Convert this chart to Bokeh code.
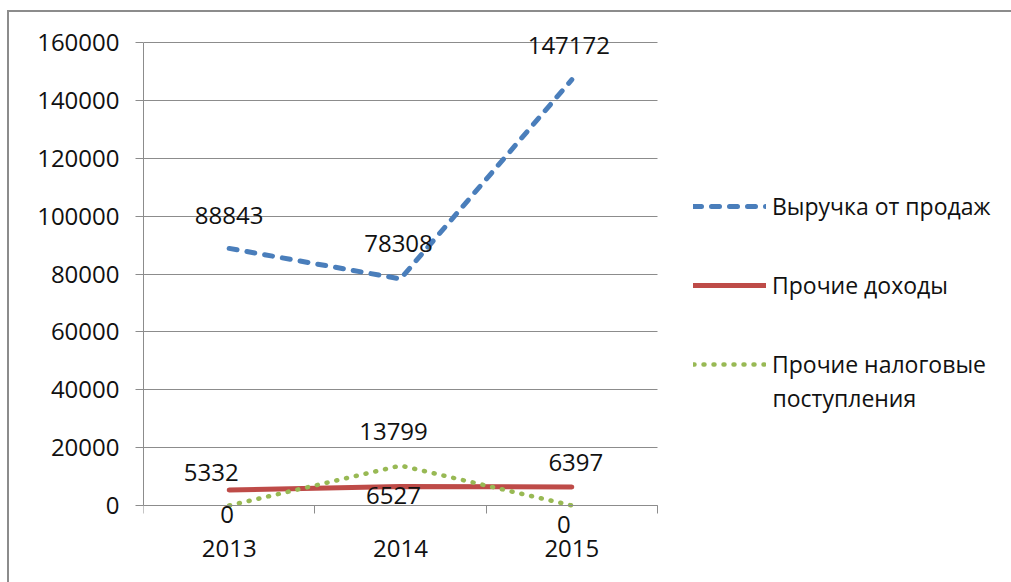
from bokeh.plotting import figure
from bokeh.models import (Range1d, FixedTicker, NumeralTickFormatter, ColumnDataSource,
                          LabelSet, Label, Legend, LegendItem)
from bokeh.core.properties import value
from bokeh.embed import file_html
from bokeh.resources import INLINE

# --- data ---------------------------------------------------------------
years = ["2013", "2014", "2015"]
revenue = [88843, 78308, 147172]          # Выручка от продаж
other_income = [5332, 6527, 6397]         # Прочие доходы
other_tax = [0, 13799, 0]                 # Прочие налоговые поступления
y_ticks = [0, 20000, 40000, 60000, 80000, 100000, 120000, 140000, 160000]
series_names = ["Выручка от продаж", "Прочие доходы", "Прочие налоговые"]
series_name_tail = "поступления"          # second line of the third legend entry

# --- style --------------------------------------------------------------
FONT = "Open Sans"
FS = "24px"
LEG_FS = "23px"
GRID = "#8c8c8c"
INK = "#111111"
BLUE, RED, GREEN = "#4A7EBB", "#BE4B48", "#98B954"

# value-label nudges in screen pixels (dx, dy; dy > 0 is upward)
revenue_nudge = [(0, 33), (-2, 35), (-3, 34)]
income_nudge = [(-18, 18), (-7, -9), (4, 24)]
tax_nudge = [(-2, -9), (-7, 34), (-8, -19)]

# --- geometry (pixels) --------------------------------------------------
W, H = 1011, 582
AX_L, AX_R, AX_T, AX_B = 143, 657, 42, 505      # plotting area bounded by the axes
FR_L, FR_R, FR_T, FR_B = 143, 1005, 20, 575     # drawable frame (room for labels, legend)
LEG_X, LEG_ROW1, LEG_PITCH = 693, 206, 79       # legend left edge, first row centre, row pitch
LEG_ROW_H = 34

n = len(years)
xs = [i + 0.5 for i in range(n)]
y_lo, y_hi = y_ticks[0], y_ticks[-1]
ppx = (AX_R - AX_L) / n
ppy = (AX_B - AX_T) / (y_hi - y_lo)
x_range = Range1d(0, (FR_R - AX_L) / ppx)
y_range = Range1d(y_lo - (FR_B - AX_B) / ppy, y_hi + (AX_T - FR_T) / ppy)

# outer chart border (top and left edges), painted behind a transparent canvas border
frame_css = ("linear-gradient(#8c8c8c,#8c8c8c) 7px 10px / 1200px 2px no-repeat, "
             "linear-gradient(#8c8c8c,#8c8c8c) 7px 10px / 2px 900px no-repeat, white")

p = figure(width=W, height=H, output_backend="svg", toolbar_location=None,
           x_range=x_range, y_range=y_range,
           min_border_left=FR_L, min_border_right=W - FR_R,
           min_border_top=FR_T, min_border_bottom=H - FR_B,
           styles={"background": frame_css})
p.outline_line_color = None
p.background_fill_color = "white"
p.border_fill_color = None

# x axis at y = 0: labels at category centres, tick marks at category boundaries
xax = p.xaxis[0]
xax.fixed_location = 0
xax.bounds = (0, n)
xax.ticker = FixedTicker(ticks=xs, minor_ticks=list(range(n + 1)))
xax.major_label_overrides = {x: y for x, y in zip(xs, years)}
xax.major_tick_out = 0
xax.major_tick_in = 0
xax.minor_tick_out = 8
xax.minor_tick_in = 0
xax.minor_tick_line_color = GRID
xax.axis_line_color = GRID
xax.major_label_standoff = 26

yax = p.yaxis[0]
yax.bounds = (y_lo, y_hi)
yax.ticker = FixedTicker(ticks=y_ticks)
yax.formatter = NumeralTickFormatter(format="0")
yax.major_tick_out = 8
yax.major_tick_in = 0
yax.minor_tick_line_color = None
yax.major_tick_line_color = GRID
yax.axis_line_color = GRID
yax.major_label_standoff = 16

for ax in (xax, yax):
    ax.major_label_text_font = FONT
    ax.major_label_text_font_size = FS
    ax.major_label_text_color = INK

p.xgrid.grid_line_color = None
p.ygrid.grid_line_color = GRID
p.ygrid.ticker = FixedTicker(ticks=y_ticks)
p.ygrid.cross_bounds = (0, n)

# --- series -------------------------------------------------------------
r_rev = p.line(xs, revenue, line_color=BLUE, line_width=5, line_dash="8 10", line_cap="round")
r_inc = p.line(xs, other_income, line_color=RED, line_width=5, line_cap="round")
r_tax = p.line(xs, other_tax, line_color=GREEN, line_width=4.5, line_dash="1 9", line_cap="round")

def value_labels(vals, nudge):
    src = ColumnDataSource(dict(x=xs, y=vals, t=[str(v) for v in vals],
                                dx=[d[0] for d in nudge], dy=[d[1] for d in nudge]))
    return LabelSet(x="x", y="y", text="t", x_offset="dx", y_offset="dy", source=src,
                    text_align="center", text_baseline="middle",
                    text_font=value(FONT), text_font_size=value(FS), text_color=INK)

for vals, nudge in ((revenue, revenue_nudge), (other_income, income_nudge), (other_tax, tax_nudge)):
    p.add_layout(value_labels(vals, nudge))

# --- legend -------------------------------------------------------------
GLYPH_W, STANDOFF = 73, 6
last_row = LEG_ROW1 + LEG_PITCH * (len(series_names) - 1)
legend = Legend(items=[LegendItem(label=s, renderers=[r]) for s, r in
                       zip(series_names, (r_rev, r_inc, r_tax))],
                location=(LEG_X - FR_L, FR_B - (last_row + LEG_ROW_H / 2)))
legend.glyph_width = GLYPH_W
legend.glyph_height = LEG_ROW_H
legend.label_height = LEG_ROW_H
legend.label_standoff = STANDOFF
legend.spacing = LEG_PITCH - LEG_ROW_H
legend.padding = 0
legend.margin = 0
legend.border_line_color = None
legend.background_fill_alpha = 0
legend.label_text_font = FONT
legend.label_text_font_size = LEG_FS
legend.label_text_color = INK
p.add_layout(legend)

p.add_layout(Label(x=LEG_X + GLYPH_W + STANDOFF - FR_L, y=FR_B - (last_row + 33),
                   x_units="screen", y_units="screen", text=series_name_tail,
                   text_align="left", text_baseline="middle",
                   text_font=FONT, text_font_size=LEG_FS, text_color=INK))

open("out.html", "w").write(file_html(p, INLINE))
